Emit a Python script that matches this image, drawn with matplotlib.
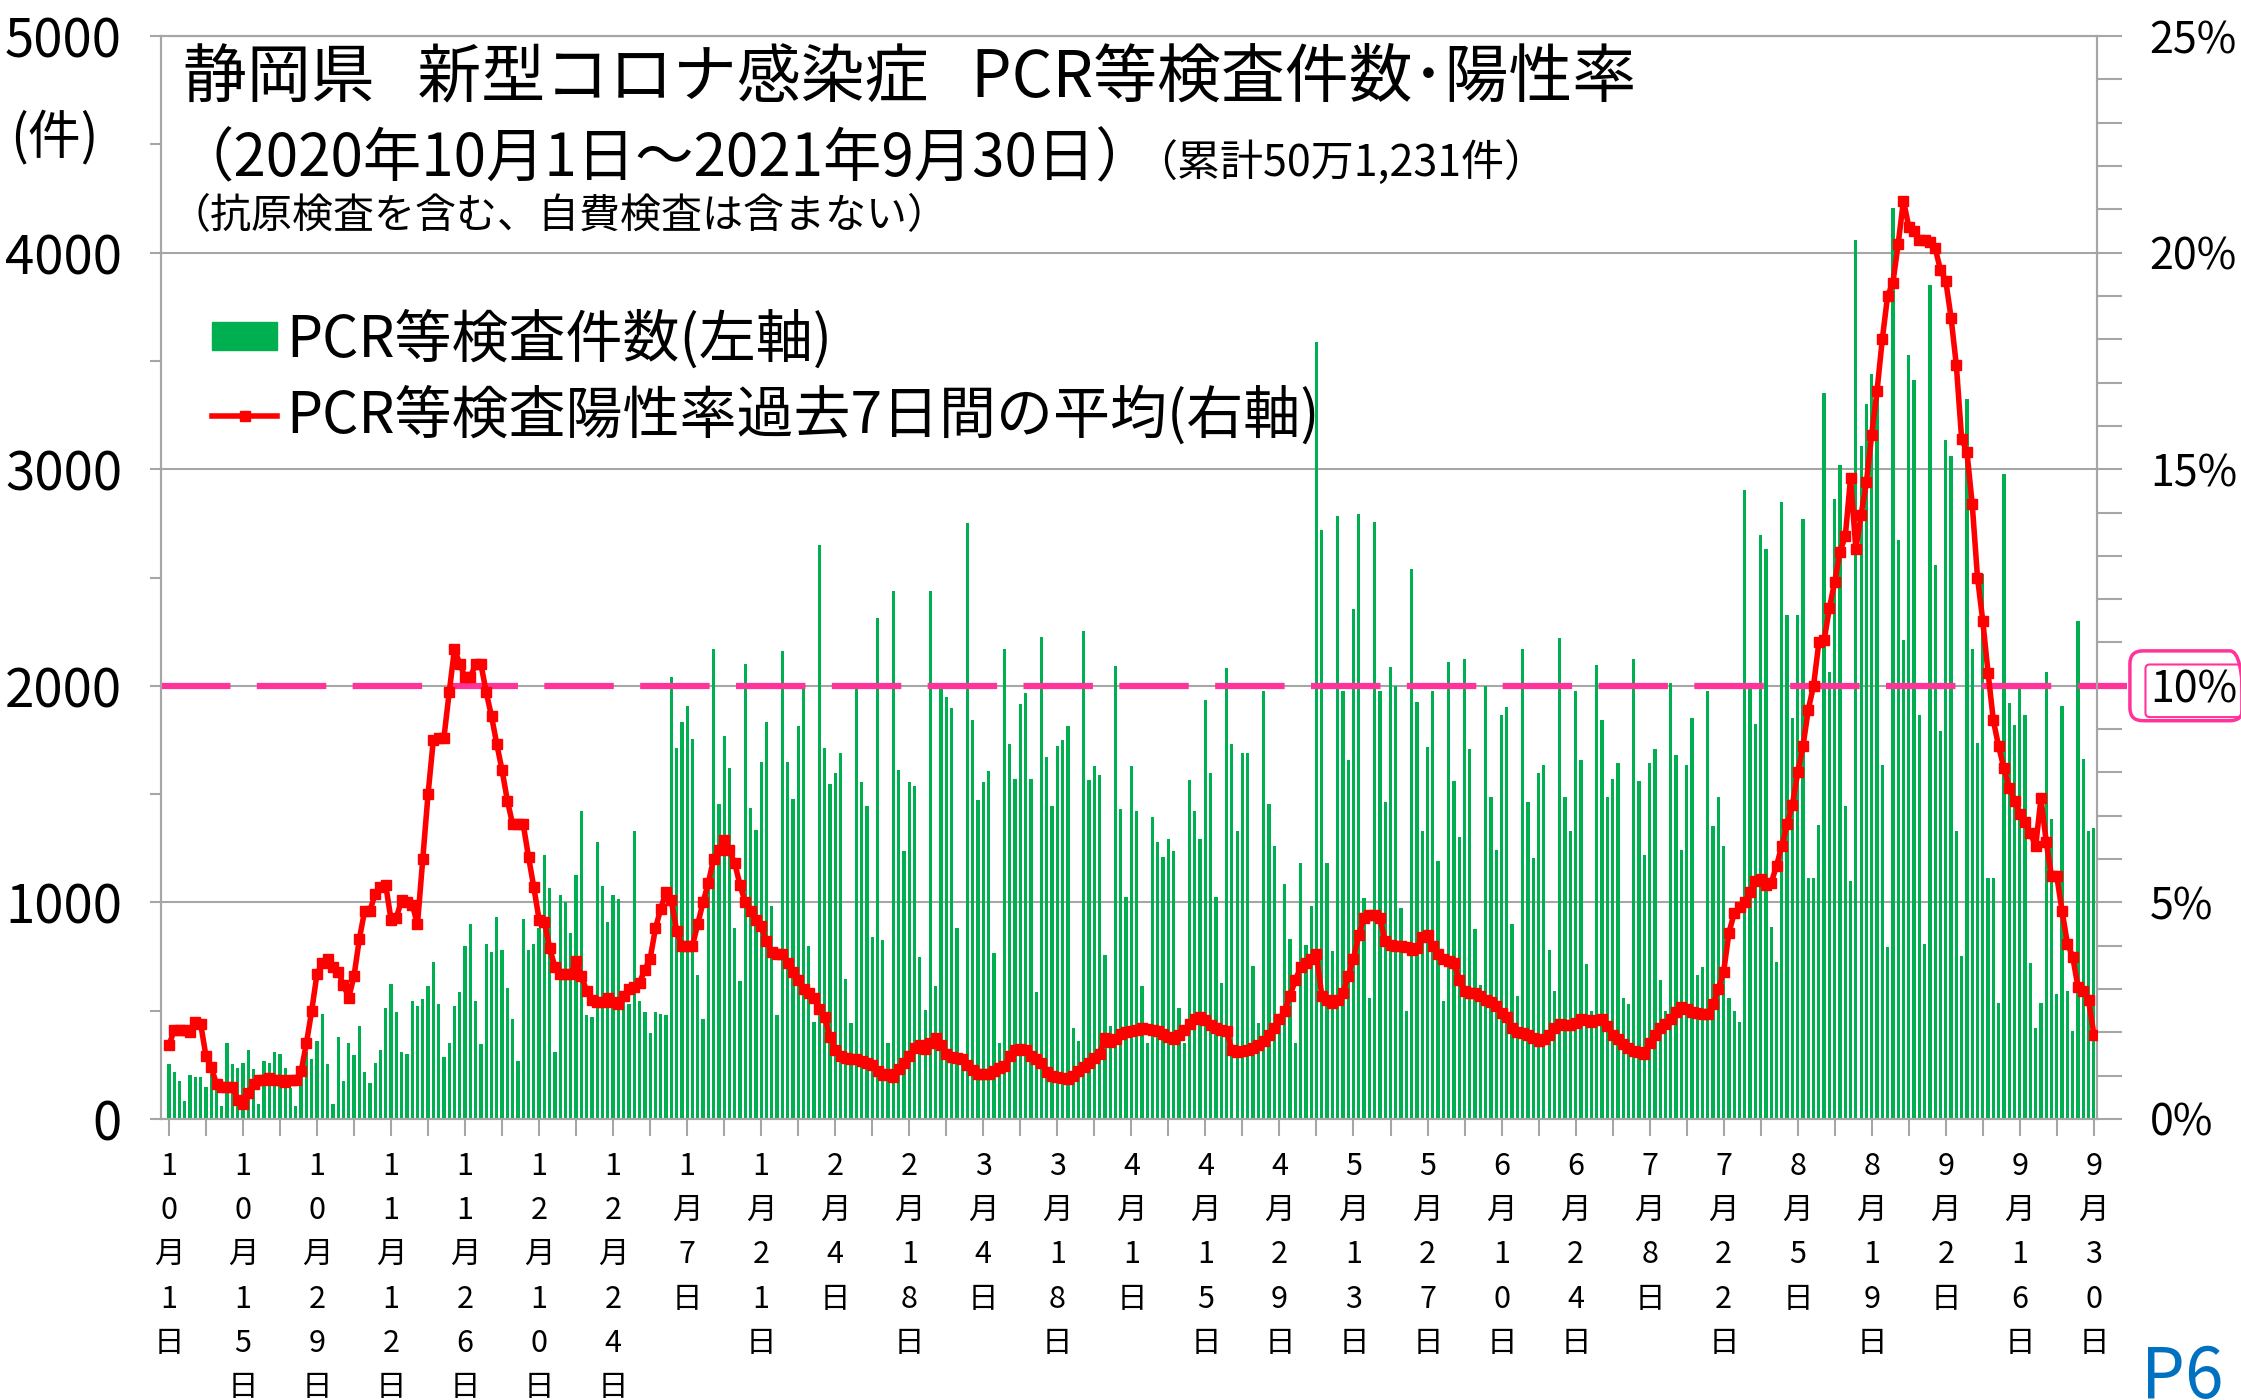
import numpy as np
import pandas as pd
import matplotlib
matplotlib.use('Agg')
import matplotlib.pyplot as plt
from matplotlib.ticker import MultipleLocator
from matplotlib.patches import Patch
from matplotlib.lines import Line2D

plt.rcParams['font.family'] = ['Noto Sans CJK JP', 'DejaVu Sans']
plt.rcParams['lines.scale_dashes'] = False

# 1. Datos: 2020-10-01 .. 2021-09-30 (365 dias)
fechas = pd.date_range('2020-10-01', '2021-09-30', freq='D')

# PCR等検査件数 (eje izquierdo), filas de 14 dias
kensa = [
    252, 218, 176, 84, 205, 193, 193, 150, 210, 151, 59, 353, 252, 235,
    260, 319, 230, 67, 269, 260, 311, 302, 235, 143, 59, 210, 311, 277,
    361, 487, 252, 67, 378, 176, 353, 294, 429, 218, 168, 260, 319, 513,
    622, 496, 311, 302, 546, 521, 555, 613, 723, 529, 286, 353, 521, 588,
    798, 899, 546, 345, 807, 773, 933, 782, 605, 462, 269, 924, 782, 807,
    882, 1218, 1067, 311, 1034, 1000, 857, 1126, 1420, 479, 471, 1277, 1076, 908,
    1034, 1017, 555, 529, 1328, 546, 496, 395, 496, 487, 479, 2042, 1714, 1832,
    1908, 1756, 664, 462, 1067, 2168, 1454, 1770, 1622, 882, 639, 2101, 1437, 1336,
    1650, 1832, 983, 479, 2160, 1650, 1479, 1815, 1992, 800, 450, 2650, 1714, 1546,
    1597, 1689, 647, 445, 1983, 1555, 1445, 840, 2311, 825, 353, 2437, 1613, 1235,
    1555, 1538, 748, 504, 2437, 613, 1983, 1950, 1899, 882, 300, 2750, 1840, 1471,
    1555, 1605, 765, 353, 2168, 1731, 1571, 1916, 1966, 1571, 588, 2227, 1672, 1445,
    1723, 1748, 1815, 420, 361, 2252, 1563, 1630, 1588, 756, 429, 2092, 1429, 1025,
    1630, 1420, 613, 353, 1395, 1277, 1210, 1294, 1235, 513, 353, 1563, 1420, 1294,
    1933, 1597, 1025, 630, 2084, 1731, 1328, 1689, 1689, 706, 445, 1975, 1454, 1260,
    450, 1084, 832, 350, 1181, 802, 985, 3589, 2721, 1181, 777, 2782, 1976, 1658,
    2355, 2795, 1022, 560, 2758, 1976, 1462, 2086, 2000, 973, 500, 2538, 1927, 1328,
    1719, 1976, 1193, 545, 2110, 1560, 1300, 2122, 1707, 875, 619, 2000, 1487, 1242,
    1866, 1902, 900, 570, 2171, 1462, 1205, 1597, 1633, 780, 590, 2220, 1487, 1328,
    1976, 1658, 716, 500, 2098, 1841, 1487, 1572, 1645, 557, 533, 2122, 1560, 1218,
    1645, 1707, 643, 500, 2012, 1682, 1242, 1633, 1853, 667, 700, 1976, 1352, 1487,
    1260, 560, 500, 450, 2905, 1985, 1825, 2696, 2633, 885, 725, 2847, 2326, 1850,
    2326, 2769, 1113, 1113, 1358, 3352, 2066, 2861, 3020, 1445, 1098, 4060, 3107, 3300,
    3439, 3396, 1633, 795, 4205, 2673, 2211, 3526, 3410, 1864, 809, 3850, 2558, 1792,
    3136, 3063, 1329, 751, 3324, 2168, 1734, 2514, 1113, 1113, 535, 2977, 1922, 1821,
    1994, 1864, 722, 419, 535, 2066, 1387, 578, 1907, 592, 405, 2297, 1662, 1329,
    1344,
]

# 陽性率 過去7日間の平均 (%), eje derecho
yousei = [
    1.7, 2.05, 2.05, 2.05, 2.0, 2.25, 2.2, 1.45, 1.2, 0.8, 0.75, 0.75, 0.75, 0.45,
    0.35, 0.6, 0.8, 0.9, 0.9, 0.95, 0.9, 0.9, 0.85, 0.9, 0.9, 1.1, 1.75, 2.5,
    3.35, 3.6, 3.7, 3.5, 3.4, 3.1, 2.8, 3.3, 4.15, 4.8, 4.8, 5.2, 5.35, 5.4,
    4.6, 4.65, 5.05, 5.0, 4.95, 4.5, 6.0, 7.5, 8.75, 8.8, 8.8, 9.85, 10.85, 10.5,
    10.2, 10.2, 10.5, 10.5, 9.85, 9.3, 8.65, 8.05, 7.35, 6.8, 6.8, 6.8, 6.05, 5.35,
    4.6, 4.55, 3.95, 3.5, 3.35, 3.35, 3.35, 3.65, 3.3, 2.95, 2.75, 2.7, 2.7, 2.8,
    2.7, 2.65, 2.85, 3.0, 3.05, 3.15, 3.45, 3.7, 4.4, 4.85, 5.25, 5.05, 4.35, 4.0,
    4.0, 4.0, 4.5, 5.0, 5.45, 6.0, 6.2, 6.45, 6.2, 5.9, 5.4, 5.0, 4.8, 4.6,
    4.45, 4.1, 3.85, 3.8, 3.8, 3.6, 3.4, 3.2, 3.0, 2.9, 2.8, 2.55, 2.35, 1.9,
    1.6, 1.45, 1.4, 1.38, 1.38, 1.34, 1.3, 1.25, 1.1, 1.02, 1.05, 0.96, 1.15, 1.3,
    1.45, 1.65, 1.7, 1.62, 1.75, 1.88, 1.7, 1.5, 1.43, 1.4, 1.38, 1.25, 1.12, 1.05,
    1.05, 1.05, 1.1, 1.18, 1.22, 1.45, 1.6, 1.62, 1.6, 1.45, 1.38, 1.3, 1.08, 1.0,
    0.97, 0.95, 0.92, 1.0, 1.1, 1.2, 1.3, 1.4, 1.5, 1.88, 1.78, 1.85, 1.97, 2.0,
    2.02, 2.06, 2.1, 2.08, 2.06, 2.02, 1.97, 1.9, 1.85, 1.95, 2.06, 2.2, 2.3, 2.35,
    2.28, 2.18, 2.1, 2.06, 2.02, 1.6, 1.55, 1.58, 1.6, 1.65, 1.7, 1.8, 1.95, 2.1,
    2.3, 2.5, 2.85, 3.2, 3.5, 3.6, 3.7, 3.8, 2.85, 2.75, 2.68, 2.75, 2.9, 3.3,
    3.7, 4.25, 4.65, 4.72, 4.7, 4.65, 4.1, 4.02, 4.0, 4.0, 3.98, 3.9, 3.95, 4.2,
    4.25, 4.0, 3.82, 3.7, 3.64, 3.6, 3.22, 2.95, 2.9, 2.9, 2.85, 2.75, 2.7, 2.6,
    2.45, 2.35, 2.1, 2.0, 1.98, 1.93, 1.88, 1.8, 1.85, 1.95, 2.1, 2.2, 2.18, 2.18,
    2.22, 2.3, 2.28, 2.24, 2.28, 2.3, 2.15, 1.95, 1.85, 1.72, 1.65, 1.58, 1.55, 1.5,
    1.75, 1.95, 2.1, 2.2, 2.3, 2.48, 2.58, 2.55, 2.48, 2.44, 2.42, 2.42, 2.65, 3.0,
    3.4, 4.3, 4.75, 4.9, 5.0, 5.25, 5.5, 5.55, 5.4, 5.45, 5.85, 6.3, 6.8, 7.25,
    8.0, 8.6, 9.45, 10.0, 11.0, 11.05, 11.8, 12.4, 13.1, 13.45, 14.8, 13.15, 13.95, 14.7,
    15.8, 16.8, 18.0, 19.0, 19.3, 20.2, 21.2, 20.6, 20.5, 20.3, 20.3, 20.25, 20.1, 19.6,
    19.35, 18.5, 17.4, 15.7, 15.4, 14.2, 12.5, 11.5, 10.3, 9.2, 8.6, 8.1, 7.65, 7.35,
    7.05, 6.85, 6.6, 6.3, 7.4, 6.4, 5.6, 5.6, 4.8, 4.05, 3.75, 3.05, 2.95, 2.75,
    1.95,
]

etiquetas_fechas = fechas[::14]
etiquetas = ['\n'.join(f'{d.month}月{d.day}日') for d in etiquetas_fechas]
pct_ticks = [0, 5, 10, 15, 20, 25]

verde = '#00B050'
rojo = '#FF0000'
rosa = '#FF3399'
gris = '#A6A6A6'

# 2. Grafico
fig = plt.figure(figsize=(22.41, 14), dpi=100)
ax = fig.add_axes([161 / 2241, 1 - 1119 / 1400, (2097 - 161) / 2241, (1119 - 36) / 1400])

ax.bar(fechas, kensa, width=0.62, color=verde, zorder=2)
ax.set_xlim(fechas[0] - pd.Timedelta(days=1.5), fechas[-1] + pd.Timedelta(days=0.6))
ax.set_ylim(0, 5000)
ax.set_yticks(range(0, 5001, 1000))
ax.yaxis.set_minor_locator(MultipleLocator(500))
ax.set_axisbelow(True)
ax.yaxis.grid(True, color=gris, lw=1.5)
ax.set_xticks(etiquetas_fechas)
ax.set_xticklabels(etiquetas, linespacing=1.55, va='top')
ax.set_xticks(fechas[::7], minor=True)
ax.tick_params(axis='x', which='both', length=12, color=gris, width=1.5,
               labelsize=22, pad=11)
ax.tick_params(axis='y', which='both', length=8, color=gris, width=1.5,
               labelsize=38, pad=20)
for s in ax.spines.values():
    s.set_color(gris)
    s.set_linewidth(1.5)

ax2 = ax.twinx()
ax2.axhline(10, xmin=0, xmax=1.0155, color=rosa, lw=4.5, dashes=(50, 19),
            clip_on=False, zorder=2)
ax2.plot(fechas, yousei, color=rojo, lw=4, marker='s', ms=7.5, zorder=3)
ax2.set_ylim(0, 25)
ax2.set_yticks(pct_ticks)
ax2.set_yticklabels([f'{p}%' for p in pct_ticks])
ax2.yaxis.set_minor_locator(MultipleLocator(1))
ax2.tick_params(axis='y', which='both', length=18, color=gris, width=1.5,
                labelsize=31, pad=20)
for s in ax2.spines.values():
    s.set_color(gris)
    s.set_linewidth(1.5)

# recuadro doble alrededor de 10%
for lab in ax2.get_yticklabels():
    if lab.get_text() == '10%':
        lab.set_bbox(dict(boxstyle='round,pad=0.1', fc='none', ec=rosa, lw=1.5))
ax2.annotate('10%', xy=(1, 10), xycoords=('axes fraction', 'data'),
             xytext=(33, 0), textcoords='offset points', ha='left', va='center',
             fontsize=31, color='none',
             bbox=dict(boxstyle='round,pad=0.3', fc='none', ec=rosa, lw=2.5),
             annotation_clip=False)

# leyenda
handles = [Patch(color=verde),
           Line2D([], [], color=rojo, lw=4, marker='s', ms=7.5)]
fig.legend(handles, ['PCR等検査件数(左軸)', 'PCR等検査陽性率過去7日間の平均(右軸)'],
           loc='upper left', bbox_to_anchor=(212 / 2241, 1 - 310 / 1400),
           frameon=False, fontsize=41, handlelength=1.15, handleheight=0.4,
           handletextpad=0.15, labelspacing=0.3, borderpad=0, borderaxespad=0)

# textos
fig.text(183 / 2241, 1 - 78 / 1400, '静岡県   新型コロナ感染症   PCR等検査件数･陽性率',
         fontsize=46, va='center')
fig.text(176 / 2241, 1 - 160 / 1400, '（2020年10月1日～2021年9月30日）',
         fontsize=42, va='center')
fig.text(1134 / 2241, 1 - 163 / 1400, '（累計50万1,231件）', fontsize=31, va='center')
fig.text(170 / 2241, 1 - 217 / 1400, '（抗原検査を含む、自費検査は含まない）',
         fontsize=29.5, va='center')
fig.text(10 / 2241, 1 - 138 / 1400, '(件)', fontsize=38, va='center')
fig.text(2141 / 2241, 1 - 1398 / 1400, 'P6', color='#0070C0', fontsize=50,
         va='baseline')

plt.savefig('out.png', dpi=100)
